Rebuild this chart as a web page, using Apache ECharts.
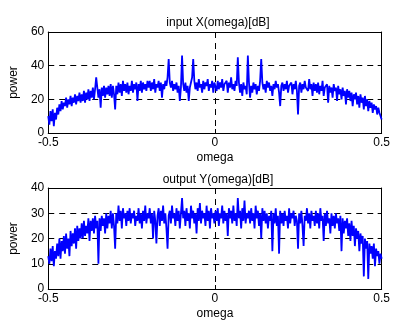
<!DOCTYPE html>
<html>
<head>
<meta charset="utf-8">
<script src="https://cdn.jsdelivr.net/npm/echarts@6/dist/echarts.min.js"></script>
<style>
html,body{margin:0;padding:0;background:#fff;}
#c{width:393px;height:322px;}
</style>
</head>
<body>
<div id="c"></div>
<script>
// input X(omega) [dB], evenly spaced over omega in [-0.5, 0.5]
const inputPower = [
10,5,13,7,14,4,12,8,15,11,17,13,19,14,18,16,21,15,20,17,22,16,21,18,23,17,22,19,24,18,
23,19,25,18,24,20,26,19,25,21,27,20,26,33,27,21,26,15,27,22,28,21,27,23,28,22,29,21,28,23,
14,28,23,30,24,29,22,31,25,29,24,30,23,28,25,31,24,29,26,30,19,29,25,31,24,30,26,29,25,31,
27,31,25,30,26,32,24,29,27,31,25,30,21,29,26,31,28,33,44,30,27,31,25,29,26,30,24,28,19,27,
46,29,25,30,24,28,19,27,30,33,44,31,26,30,25,32,27,29,24,31,26,30,28,32,25,29,27,31,24,30,
29,25,31,26,30,27,32,25,29,28,31,24,30,27,33,26,29,25,31,28,45,30,24,29,22,30,26,28,23,46,
30,21,28,24,30,26,29,23,28,25,31,44,30,26,29,24,31,27,30,25,28,22,29,26,31,27,29,24,16,28,
30,25,29,26,31,24,28,27,30,23,29,26,31,25,11,28,30,24,29,26,31,27,28,25,32,26,29,22,30,25,
29,24,30,23,28,25,31,22,27,26,29,18,28,24,27,21,29,25,27,19,28,23,26,20,27,22,25,17,26,21,
25,19,24,16,23,20,24,17,22,15,23,18,21,14,22,16,20,13,19,15,18,12,17,14,16,11,15,12,13,8
];
// output Y(omega) [dB]
const outputPower = [
13,10,16,11,17,9,15,12,18,13,20,12,19,15,21,14,22,16,20,13,23,17,22,18,24,16,25,19,24,20,
26,20,27,21,25,22,28,19,27,23,28,22,29,24,27,10,28,23,29,25,28,22,30,24,29,26,31,24,30,25,
16,30,26,33,27,31,24,32,28,30,25,31,27,32,26,30,28,31,25,29,27,32,26,30,24,31,27,33,26,30,
28,32,26,30,20,31,27,18,29,32,25,31,27,33,26,30,24,16,29,31,26,33,28,30,25,32,27,31,24,30,
36,28,31,25,32,27,30,24,33,28,31,26,30,22,32,27,34,26,31,28,30,25,33,27,31,24,32,28,30,26,
31,27,32,25,30,28,33,26,31,27,30,21,32,28,31,26,33,27,30,25,36,28,31,24,32,27,35,26,30,28,
31,26,32,27,30,24,33,28,31,25,30,20,32,27,31,26,30,24,29,27,31,15,30,26,32,25,29,14,31,26,
30,25,31,27,29,24,32,26,30,28,31,25,29,27,16,30,26,31,25,17,29,27,32,26,30,24,31,27,29,25,
31,26,30,24,32,27,29,19,30,25,31,26,28,22,30,25,29,24,30,26,28,23,29,15,28,22,27,24,28,21,
26,19,27,21,25,17,24,20,23,15,22,18,21,5,20,16,19,4,18,14,17,12,18,9,16,13,15,10,14,12
];
const omegaRange = [-0.5, 0.5];
const omegaTickStep = 0.5;
const inputTicks = [0, 20, 40, 60];
const outputTicks = [0, 10, 20, 30, 40];
const titles = ['input X(omega)[dB]', 'output Y(omega)[dB]'];
const xName = 'omega';
const yName = 'power';

function toPairs(arr){
  const n = arr.length;
  return arr.map((v,i)=>[omegaRange[0] + (omegaRange[1]-omegaRange[0]) * i/(n-1), v]);
}

const FONT = 'Liberation Sans, Arial, Helvetica, sans-serif';
const txt = {color:'#000', fontFamily:FONT, fontSize:12};
const dash = {color:'#000', type:[6,5], width:1};

function xAx(gi, main){
  return {
    type:'value', gridIndex:gi, min:omegaRange[0], max:omegaRange[1], interval:omegaTickStep,
    position: main ? 'bottom' : 'top',
    axisLine:{show:true, onZero:false, lineStyle:{color:'#000', width:1}},
    axisTick:{show:true, inside:true, length:4, lineStyle:{color:'#000'}},
    axisLabel:{show:main, ...txt, margin:4, formatter:v=>String(Math.round(v*10)/10)},
    splitLine:{show:main, lineStyle:dash},
    name: main ? xName : '', nameLocation:'middle', nameGap:19, nameTextStyle:txt
  };
}
function yAx(gi, ticks, main){
  return {
    type:'value', gridIndex:gi, min:ticks[0], max:ticks[ticks.length-1], interval:ticks[1]-ticks[0],
    position: main ? 'left' : 'right',
    axisLine:{show:true, onZero:false, lineStyle:{color:'#000', width:1}},
    axisTick:{show:true, inside:true, length:4, lineStyle:{color:'#000'}},
    axisLabel:{show:main, ...txt, margin:4},
    splitLine:{show:main, lineStyle:dash},
    name: main ? yName : '', nameLocation:'middle', nameGap:24, nameTextStyle:txt
  };
}

const chart = echarts.init(document.getElementById('c'), null, {renderer:'canvas'});
chart.setOption({
  animation:false,
  backgroundColor:'#fff',
  title:[
    {text:titles[0], left:213, top:12, textAlign:'center', textStyle:{...txt, fontWeight:'normal'}},
    {text:titles[1], left:213, top:169, textAlign:'center', textStyle:{...txt, fontWeight:'normal'}}
  ],
  grid:[
    {left:41.5, right:8, top:32, height:101},
    {left:41.5, right:8, top:188, height:101}
  ],
  xAxis:[xAx(0,true), xAx(0,false), xAx(1,true), xAx(1,false)],
  yAxis:[yAx(0,inputTicks,true), yAx(0,inputTicks,false), yAx(1,outputTicks,true), yAx(1,outputTicks,false)],
  series:[
    {type:'line', xAxisIndex:0, yAxisIndex:0, data:toPairs(inputPower), showSymbol:false,
     lineStyle:{color:'#0000ff', width:1.8}, itemStyle:{color:'#0000ff'}},
    {type:'line', xAxisIndex:2, yAxisIndex:2, data:toPairs(outputPower), showSymbol:false,
     lineStyle:{color:'#0000ff', width:1.8}, itemStyle:{color:'#0000ff'}}
  ]
});
</script>
</body>
</html>
